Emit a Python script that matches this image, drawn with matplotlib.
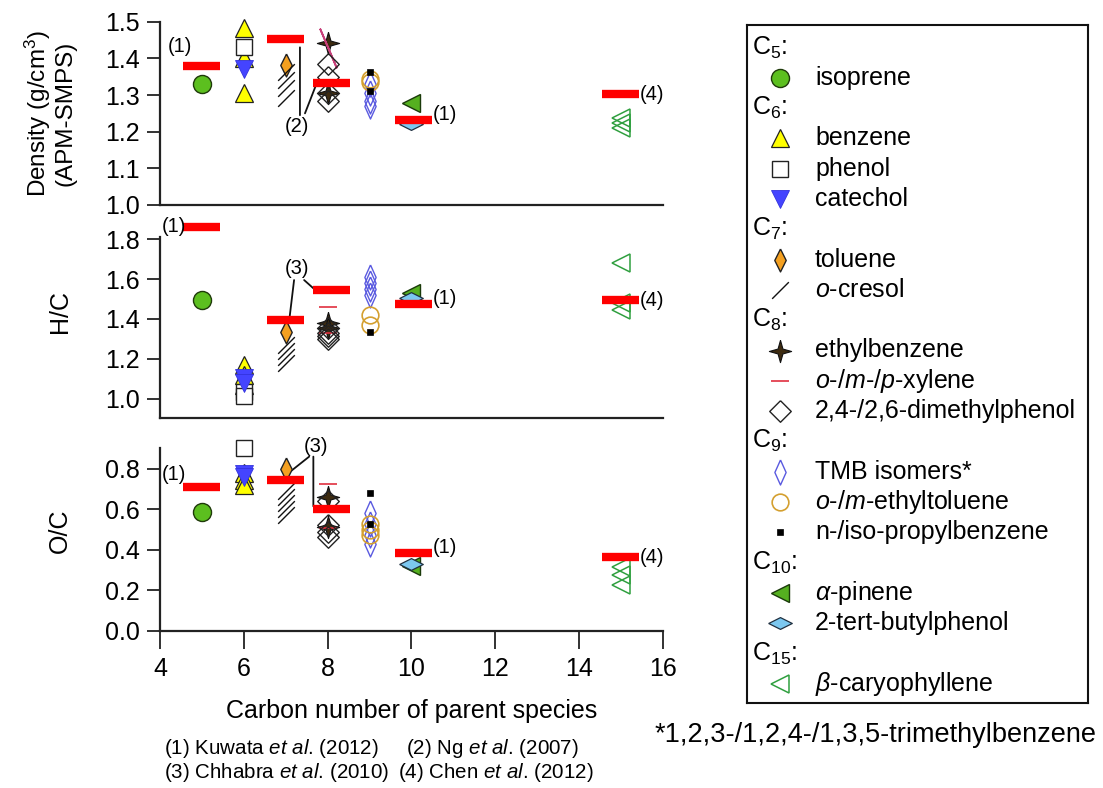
import matplotlib
matplotlib.use('Agg')
import matplotlib.pyplot as plt
from matplotlib.path import Path

plt.rcParams['font.family'] = ['Liberation Sans', 'DejaVu Sans']
plt.rcParams['mathtext.fontset'] = 'custom'
plt.rcParams['mathtext.rm'] = 'Liberation Sans'
plt.rcParams['mathtext.it'] = 'Liberation Sans:italic'
plt.rcParams['mathtext.default'] = 'regular'

# ---------------- data ----------------
species = ['isoprene', 'benzene', 'phenol', 'catechol', 'toluene', 'o-cresol',
           'ethylbenzene', 'xylene', 'dimethylphenol', 'TMB', 'ethyltoluene',
           'propylbenzene', 'a-pinene', 'tert-butylphenol', 'b-caryophyllene']
species_carbon = [5, 6, 6, 6, 7, 7, 8, 8, 8, 9, 9, 9, 10, 10, 15]

density_values = [[1.33], [1.482, 1.40, 1.305], [1.432], [1.37], [1.382],
                  [1.362, 1.341, 1.320, 1.291], [1.441, 1.305], [1.427],
                  [1.385, 1.35, 1.305, 1.285], [1.33, 1.305, 1.285, 1.27],
                  [1.345, 1.335], [1.364, 1.311], [1.278], [1.22],
                  [1.237, 1.223, 1.209]]
hc_values = [[1.495], [1.17, 1.12, 1.07], [1.036, 1.013], [1.103, 1.078], [1.336],
             [1.27, 1.24, 1.21, 1.18], [1.378, 1.353], [1.462, 1.328],
             [1.355, 1.33, 1.315, 1.30], [1.61, 1.58, 1.55, 1.52],
             [1.42, 1.37], [1.336], [1.53], [1.505],
             [1.679, 1.479, 1.445]]
oc_values = [[0.589], [0.78, 0.745, 0.72], [0.902], [0.775, 0.76], [0.80],
             [0.69, 0.66, 0.63, 0.60, 0.57], [0.66, 0.515], [0.724, 0.507],
             [0.64, 0.523, 0.49, 0.465], [0.58, 0.53, 0.475, 0.43],
             [0.53, 0.50, 0.475], [0.68, 0.53], [0.318], [0.33],
             [0.317, 0.276, 0.226]]

# literature values (red bars)
lit_carbon = [5.0, 7.0, 8.1, 10.05, 15.0]
lit_density = [1.38, 1.452, 1.332, 1.232, 1.302]
lit_hc = [1.862, 1.395, 1.545, 1.474, 1.495]
lit_oc = [0.713, 0.745, 0.601, 0.383, 0.363]
lit_refs = ['(1)', None, None, '(1)', '(4)']

x_ticks = [4, 6, 8, 10, 12, 14, 16]
density_ticks = [1.0, 1.1, 1.2, 1.3, 1.4, 1.5]
hc_ticks = [1.0, 1.2, 1.4, 1.6, 1.8]
oc_ticks = [0.0, 0.2, 0.4, 0.6, 0.8]

legend_rows = [('h', 'C$_5$:'), ('s', 'isoprene'),
               ('h', 'C$_6$:'), ('s', 'benzene'), ('s', 'phenol'), ('s', 'catechol'),
               ('h', 'C$_7$:'), ('s', 'toluene'), ('s', 'o-cresol'),
               ('h', 'C$_8$:'), ('s', 'ethylbenzene'), ('s', 'xylene'), ('s', 'dimethylphenol'),
               ('h', 'C$_9$:'), ('s', 'TMB'), ('s', 'ethyltoluene'), ('s', 'propylbenzene'),
               ('h', 'C$_{10}$:'), ('s', 'a-pinene'), ('s', 'tert-butylphenol'),
               ('h', 'C$_{15}$:'), ('s', 'b-caryophyllene')]
legend_labels = {
    'isoprene': 'isoprene', 'benzene': 'benzene', 'phenol': 'phenol',
    'catechol': 'catechol', 'toluene': 'toluene', 'o-cresol': r'$\mathit{o}$-cresol',
    'ethylbenzene': 'ethylbenzene', 'xylene': r'$\mathit{o}$-/$\mathit{m}$-/$\mathit{p}$-xylene',
    'dimethylphenol': '2,4-/2,6-dimethylphenol', 'TMB': 'TMB isomers*',
    'ethyltoluene': r'$\mathit{o}$-/$\mathit{m}$-ethyltoluene',
    'propylbenzene': 'n-/iso-propylbenzene', 'a-pinene': r'$\mathit{\alpha}$-pinene',
    'tert-butylphenol': '2-tert-butylphenol', 'b-caryophyllene': r'$\mathit{\beta}$-caryophyllene'}

# ---------------- styles ----------------
star4 = Path([(0, 1), (0.22, 0.22), (1, 0), (0.22, -0.22), (0, -1), (-0.22, -0.22),
              (-1, 0), (-0.22, 0.22), (0, 1)])
slash = Path([(-1, -1), (1, 1)], [Path.MOVETO, Path.LINETO])
thin_d = Path([(0, 1), (0.5, 0), (0, -1), (-0.5, 0), (0, 1)])
tmb_d = Path([(0, 1), (0.45, 0), (0, -1), (-0.45, 0), (0, 1)])
flat_d = Path([(-1, 0), (0, 0.5), (1, 0), (0, -0.5), (-1, 0)])
full_d = Path([(0, 1), (1, 0), (0, -1), (-1, 0), (0, 1)])

styles = {
    'isoprene': dict(marker='o', ms=13, mfc='#5cbf1f', mec='#1f3a0a', mew=1.0),
    'benzene': dict(marker='^', ms=13, mfc='#ffff00', mec='#222222', mew=0.9),
    'phenol': dict(marker='s', ms=11.5, mfc='white', mec='#222222', mew=1.0),
    'catechol': dict(marker='v', ms=13.5, mfc='#4444ff', mec='#3333dd', mew=0.6),
    'toluene': dict(marker=thin_d, ms=16.5, mfc='#f4a020', mec='#222222', mew=1.0),
    'o-cresol': dict(marker=slash, ms=12, mfc='none', mec='#111111', mew=1.0),
    'ethylbenzene': dict(marker=star4, ms=16, mfc='#3d2b10', mec='#111111', mew=0.8),
    'xylene': dict(marker='_', ms=13, mfc='none', mec='#e03040', mew=1.2),
    'dimethylphenol': dict(marker=full_d, ms=15.5, mfc='none', mec='#222222', mew=1.0),
    'TMB': dict(marker=tmb_d, ms=18, mfc='none', mec='#5a5ae0', mew=1.0),
    'ethyltoluene': dict(marker='o', ms=12, mfc='none', mec='#d4a030', mew=1.2),
    'propylbenzene': dict(marker='s', ms=5, mfc='#000000', mec='#000000', mew=0.5),
    'a-pinene': dict(marker='<', ms=13.5, mfc='#55b020', mec='#1a3a0a', mew=1.0),
    'tert-butylphenol': dict(marker=flat_d, ms=17, mfc='#7cc8f0', mec='#203040', mew=0.9),
    'b-caryophyllene': dict(marker='<', ms=13, mfc='none', mec='#30a040', mew=1.1),
}
# the xylene mark in the density panel is drawn as a long slanted dash
xylene_density_style = dict(marker=(2, 2, 23), ms=31, mfc='none', mec='#c8407a', mew=1.3)

RED = '#ff0000'
BAR_HALF = 0.44
AXC = '#222222'

W, H = 1103, 788
fig = plt.figure(figsize=(W / 100, H / 100), dpi=100)


def frac(left_px, top_px, right_px, bottom_px):
    return [left_px / W, 1 - bottom_px / H, (right_px - left_px) / W, (bottom_px - top_px) / H]


ax_d = fig.add_axes(frac(160, 21.7, 662.8, 205))
ax_h = fig.add_axes(frac(160, 205, 662.8, 418))
ax_o = fig.add_axes(frac(160, 418, 662.8, 630.7))

panels = [
    (ax_d, density_values, lit_density, (1.0, 1.5), density_ticks, (1.0, 1.5), '%.1f'),
    (ax_h, hc_values, lit_hc, (0.904, 1.971), hc_ticks, (0.904, 1.812), '%.1f'),
    (ax_o, oc_values, lit_oc, (0.0, 1.052), oc_ticks, (0.0, 0.904), '%.1f'),
]
c5_label_offsets = [(6, 14), (2, 0), (2, 8.5)]

for i, (ax, vals, lit, ylim, yt, bounds, fmt) in enumerate(panels):
    ax.set_xlim(4, 16)
    ax.set_ylim(*ylim)
    ax.patch.set_alpha(0)
    for s in ['top', 'right']:
        ax.spines[s].set_visible(False)
    for s in ['left', 'bottom']:
        ax.spines[s].set_color(AXC)
        ax.spines[s].set_linewidth(1.6)
    ax.spines['left'].set_bounds(*bounds)
    ax.set_yticks(yt)
    ax.set_yticklabels([fmt % t for t in yt])
    ax.tick_params(axis='y', direction='out', length=9.5, width=1.3, color=AXC,
                   labelsize=18, pad=5)
    if ax is ax_o:
        ax.set_xticks(x_ticks)
        ax.tick_params(axis='x', direction='out', length=12.7, width=1.3, color=AXC,
                       labelsize=18, pad=6)
    else:
        ax.set_xticks([])
    for k, (name, c) in enumerate(zip(species, species_carbon)):
        st = styles[name]
        if ax is ax_d and name == 'xylene':
            st = xylene_density_style
        ax.plot([c] * len(vals[k]), vals[k], linestyle='none', clip_on=False,
                zorder=3 + k * 0.1, **st)
    ax.hlines(lit, [c - BAR_HALF for c in lit_carbon], [c + BAR_HALF for c in lit_carbon],
              colors=RED, linewidth=6, zorder=10, clip_on=False)
    for c, v, r in zip(lit_carbon, lit, lit_refs):
        if r is None:
            continue
        if c < 6:
            ax.annotate(r, (c - BAR_HALF, v), xytext=c5_label_offsets[i],
                        textcoords='offset points',
                        ha='right', va='center', fontsize=14.5, zorder=11)
        else:
            dy = 4 if c < 12 else 0
            ax.annotate(r, (c + BAR_HALF, v), xytext=(0.5, dy), textcoords='offset points',
                        ha='left', va='center', fontsize=14.5, zorder=11)

line_kw = dict(arrowprops=dict(arrowstyle='-', lw=1.3, color='#111111', shrinkA=0, shrinkB=0))
# (2) leader lines, density panel
ax_d.text(7.26, 1.214, '(2)', ha='center', va='center', fontsize=14.5)
ax_d.annotate('', xy=(7.34, 1.43), xytext=(7.34, 1.245), **line_kw)
ax_d.annotate('', xy=(7.74, 1.332), xytext=(7.46, 1.25), **line_kw)
# (3) leader lines, H/C panel
ax_h.text(7.26, 1.654, '(3)', ha='center', va='center', fontsize=14.5)
ax_h.annotate('', xy=(7.09, 1.403), xytext=(7.2, 1.595), **line_kw)
ax_h.annotate('', xy=(7.68, 1.55), xytext=(7.44, 1.595), **line_kw)
# (3) leader lines, O/C panel
ax_o.text(7.72, 0.91, '(3)', ha='center', va='center', fontsize=14.5)
ax_o.annotate('', xy=(6.94, 0.759), xytext=(7.56, 0.861), **line_kw)
ax_o.annotate('', xy=(7.66, 0.615), xytext=(7.66, 0.861), **line_kw)

# axis labels
ax_d.set_ylabel('Density (g/cm$^3$)\n(APM-SMPS)', fontsize=17.5, linespacing=1.05)
ax_d.yaxis.set_label_coords(-0.167, 0.5)
ax_h.set_ylabel('H/C', fontsize=18)
ax_h.yaxis.set_label_coords(-0.175, 0.5)
ax_o.set_ylabel('O/C', fontsize=18)
ax_o.yaxis.set_label_coords(-0.175, 0.47)
ax_o.set_xlabel('Carbon number of parent species', fontsize=18, labelpad=13)

# ---------------- legend box ----------------
ax_l = fig.add_axes(frac(747, 25, 1088, 703))
ax_l.set_xlim(747, 1088)
ax_l.set_ylim(703, 25)
ax_l.set_xticks([])
ax_l.set_yticks([])
for s in ax_l.spines.values():
    s.set_linewidth(1.5)
    s.set_color('#111111')
row0, drow = 47.5, 30.3
for j, (kind, key) in enumerate(legend_rows):
    y = row0 + drow * j
    if kind == 'h':
        ax_l.text(752, y, key, ha='left', va='center', fontsize=18)
    else:
        st = dict(styles[key])
        ax_l.plot([780], [y], linestyle='none', **st)
        ax_l.text(815, y, legend_labels[key], ha='left', va='center', fontsize=18)

# ---------------- footnotes ----------------
fig.text(1097 / W, 1 - 735 / H, '*1,2,3-/1,2,4-/1,3,5-trimethylbenzene', fontsize=19.5,
         ha='right', va='center')
fig.text(164 / W, 1 - 749 / H, r'(1) Kuwata $\mathit{et\ al}$. (2012)', fontsize=14.8,
         ha='left', va='center')
fig.text(406 / W, 1 - 749 / H, r'(2) Ng $\mathit{et\ al}$. (2007)', fontsize=14.8,
         ha='left', va='center')
fig.text(164 / W, 1 - 773 / H, r'(3) Chhabra $\mathit{et\ al}$. (2010)', fontsize=14.8,
         ha='left', va='center')
fig.text(398 / W, 1 - 773 / H, r'(4) Chen $\mathit{et\ al}$. (2012)', fontsize=14.8,
         ha='left', va='center')

fig.savefig('out.png', dpi=100)
